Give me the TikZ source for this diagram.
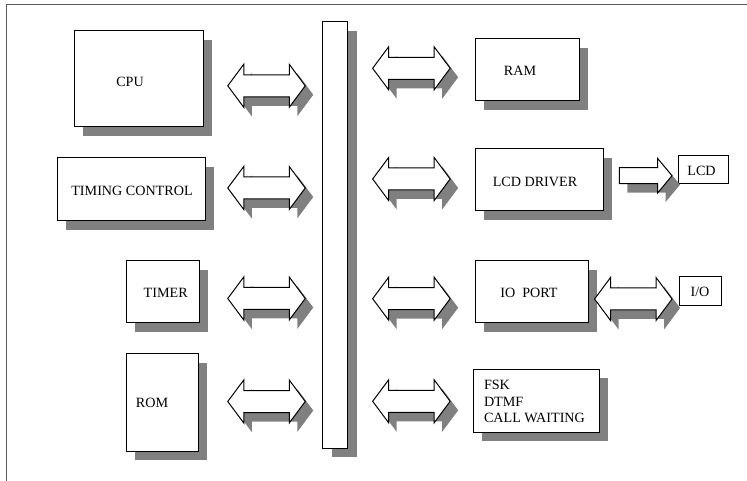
\documentclass[tikz,border=0pt]{standalone}
\usepackage{fontspec}
\setmainfont{Liberation Serif}
\newfontfamily\lblfont{Liberation Serif}
\usetikzlibrary{fit,shadows}
\definecolor{shgray}{RGB}{128,128,128}
\definecolor{framegray}{RGB}{90,90,90}
\begin{document}
\begin{tikzpicture}[x=0.75pt,y=-0.75pt,
  box/.style={draw=black, line width=0.75pt, fill=white, inner sep=0pt, outer sep=0pt},
  shbox/.style={box, drop shadow={shadow xshift=6.75pt, shadow yshift=-6.75pt, fill=shgray, opacity=1}},
  lbl/.style={font=\lblfont\fontsize{10.6}{12.5}\selectfont, inner sep=0pt, outer sep=0pt},
  arrowline/.style={draw=black, line width=0.75pt, fill=white, line join=miter},
  dblarrow/.pic={
    \fill[shgray, shift={(8,9)}] (-38.75,0) -- (-22.75,-21.5) -- (-22.75,-11) -- (22.75,-11) -- (22.75,-21.5) -- (38.75,0) -- (22.75,21.5) -- (22.75,11) -- (-22.75,11) -- (-22.75,21.5) -- cycle;
    \path[arrowline] (-38.75,0) -- (-22.75,-21.5) -- (-22.75,-11) -- (22.75,-11) -- (22.75,-21.5) -- (38.75,0) -- (22.75,21.5) -- (22.75,11) -- (-22.75,11) -- (-22.75,21.5) -- cycle;
  },
  sglarrow/.pic={
    \fill[shgray, shift={(8,9)}] (-26.35,-8) -- (12.05,-8) -- (12.05,-17.2) -- (26.35,0) -- (12.05,17.2) -- (12.05,8) -- (-26.35,8) -- cycle;
    \path[arrowline] (-26.35,-8) -- (12.05,-8) -- (12.05,-17.2) -- (26.35,0) -- (12.05,17.2) -- (12.05,8) -- (-26.35,8) -- cycle;
  }
]
\useasboundingbox (0,0) rectangle (747,481);
\fill[white] (0,0) rectangle (747,481);

% outer frame (only top and left edges visible)
\draw[framegray, line width=1pt] (747,4.5) -- (6.5,4.5) -- (6.5,481);

% left blocks
\node[shbox, fit={(74,31) (203,127)}] (cpu) {};
\node[shbox, fit={(57,158) (205,221)}] (timing) {};
\node[shbox, fit={(126,261) (199,323)}] (timer) {};
\node[shbox, fit={(126,354) (198,451)}] (rom) {};

% bus
\node[box, drop shadow={shadow xshift=7.5pt, shadow yshift=-6.75pt, fill=shgray, opacity=1}, fit={(322,22) (347,448)}] (bus) {};

% right blocks
\node[shbox, fit={(475,39) (579,101)}] (ram) {};
\node[shbox, fit={(475,149) (603,211)}] (lcddrv) {};
\node[shbox, fit={(475,261) (588,323)}] (ioport) {};
\node[shbox, fit={(473,369) (599,432)}] (fsk) {};
\node[box, fit={(678,156) (728,184)}] (lcd) {};
\node[box, fit={(679,277) (721,306)}] (io) {};

% labels
\node[lbl] (tcpu) at (130,82) {CPU};
\node[lbl] (ttiming) at (132,190.5) {TIMING CONTROL};
\node[lbl] (ttimer) at (165.7,293) {TIMER};
\node[lbl] (trom) at (152,403) {ROM};
\node[lbl] (tram) at (520,71) {RAM};
\node[lbl] (tlcddrv) at (535,181.5) {LCD DRIVER};
\node[lbl] (tioport) at (529,292.5) {IO\ \ PORT};
\node[lbl, align=left, anchor=west] (tfsk) at (484,401.7) {FSK\\DTMF\\CALL WAITING};
\node[lbl] (tlcd) at (701.5,171) {LCD};
\node[lbl] (tio) at (700,292) {I/O};

% block arrows between blocks and bus
\pic (acpu) at (266.5,85.8) {dblarrow};
\pic (atiming) at (266.5,188) {dblarrow};
\pic (atimer) at (266.5,298.5) {dblarrow};
\pic (arom) at (266.5,401.5) {dblarrow};
\pic (aram) at (411.4,68.3) {dblarrow};
\pic (alcddrv) at (411.4,179) {dblarrow};
\pic (aioport) at (411.4,298.7) {dblarrow};
\pic (afsk) at (411.4,401.3) {dblarrow};
\pic (aio) at (633.3,299) {dblarrow};
\pic (alcd) at (645.65,175.7) {sglarrow};
\end{tikzpicture}
\end{document}
